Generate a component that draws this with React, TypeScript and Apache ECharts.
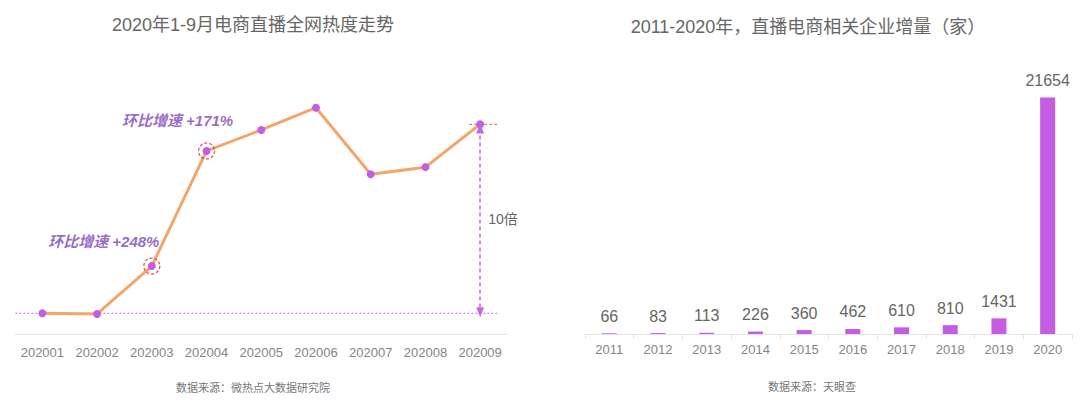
import React, { useEffect, useRef } from "react";
import * as echarts from "echarts";

const FONT = '"Liberation Sans", "Noto Sans CJK SC", sans-serif';

// Left chart: online heat of live-stream e-commerce, Jan–Sep 2020 (relative index, 202001 = 10)
const months = ["202001", "202002", "202003", "202004", "202005", "202006", "202007", "202008", "202009"];
const heatValues = [10, 9.7, 32.5, 87.3, 97.3, 107.9, 76.2, 79.6, 100];
const growthNotes = [
  { month: "202003", value: 32.5, text: "环比增速 +248%" },
  { month: "202004", value: 87.3, text: "环比增速 +171%" },
];
const baseValue = 10;
const peakValue = 100;
const multipleText = "10倍";

// Right chart: new live-stream e-commerce companies per year
const years = ["2011", "2012", "2013", "2014", "2015", "2016", "2017", "2018", "2019", "2020"];
const companyCounts = [66, 83, 113, 226, 360, 462, 610, 810, 1431, 21654];

const leftTitle = "2020年1-9月电商直播全网热度走势";
const rightTitle = "2011-2020年，直播电商相关企业增量（家）";
const leftSource = "数据来源：微热点大数据研究院";
const rightSource = "数据来源：天眼查";

const PURPLE = "#c45ce4";
const ORANGE = "#f2a66c";
const NOTE = "#7a45b8";
const GUIDE = "#c466e6";

export default function App() {
  const ref = useRef<HTMLDivElement>(null);
  useEffect(() => {
    if (!ref.current) return;
    const chart = echarts.init(ref.current, undefined, { renderer: "svg" });
    const noteOffsets: Record<string, number[]> = { "202003": [-48, -25], "202004": [-29, -30] };
    chart.setOption({
      animation: false,
      backgroundColor: "#ffffff",
      textStyle: { fontFamily: FONT },
      grid: [
        { left: 15, width: 492.5, top: 82.3, height: 252 },
        { left: 585, width: 487, top: 61, height: 273 },
      ],
      xAxis: [
        {
          type: "category",
          gridIndex: 0,
          data: months,
          boundaryGap: true,
          axisLine: { lineStyle: { color: "#e6e6e6", width: 1 } },
          axisTick: { show: false },
          axisLabel: { color: "#858585", fontSize: 13, margin: 12, interval: 0, fontFamily: FONT },
        },
        {
          type: "category",
          gridIndex: 1,
          data: years,
          boundaryGap: true,
          axisLine: { lineStyle: { color: "#e3e3e3", width: 1 } },
          axisTick: { show: true, length: 5, lineStyle: { color: "#e3e3e3" } },
          axisLabel: { color: "#858585", fontSize: 13, margin: 9, interval: 0, fontFamily: FONT },
        },
      ],
      yAxis: [
        { type: "value", gridIndex: 0, min: 0, max: 120, show: false, splitLine: { show: false } },
        { type: "value", gridIndex: 1, min: 0, max: 25000, show: false, splitLine: { show: false } },
      ],
      series: [
        {
          type: "line",
          xAxisIndex: 0,
          yAxisIndex: 0,
          data: heatValues,
          symbol: "circle",
          symbolSize: 8,
          lineStyle: { color: ORANGE, width: 3 },
          itemStyle: { color: PURPLE },
          z: 3,
          markLine: {
            silent: true,
            animation: false,
            symbol: ["triangle", "triangle"],
            symbolSize: [8, 10],
            label: { show: false },
            lineStyle: { color: GUIDE, type: [4, 3], width: 1.5 },
            data: [
              [
                { coord: [months[months.length - 1], peakValue - 2] },
                { coord: [months[months.length - 1], baseValue + 0.5] },
              ],
            ],
          },
        },
        {
          type: "scatter",
          xAxisIndex: 0,
          yAxisIndex: 0,
          symbol: "circle",
          symbolSize: 16,
          z: 4,
          itemStyle: {
            color: "rgba(0,0,0,0)",
            borderColor: "#e02b2b",
            borderWidth: 1.3,
            borderType: [3, 2],
          },
          data: growthNotes.map((n) => ({
            value: [n.month, n.value],
            label: {
              show: true,
              position: "inside",
              offset: noteOffsets[n.month],
              formatter: n.text,
              color: NOTE,
              fontSize: 15,
              fontStyle: "italic",
              fontWeight: "bold",
              fontFamily: FONT,
            },
          })),
        },
        {
          type: "bar",
          xAxisIndex: 1,
          yAxisIndex: 1,
          data: companyCounts,
          barWidth: 15,
          itemStyle: { color: PURPLE },
          label: {
            show: true,
            position: "top",
            distance: 9,
            color: "#666666",
            fontSize: 16,
            fontFamily: FONT,
          },
        },
      ],
    });

    const peak = chart.convertToPixel({ xAxisIndex: 0, yAxisIndex: 0 }, [months[months.length - 1], peakValue]) as number[];
    const base = chart.convertToPixel({ xAxisIndex: 0, yAxisIndex: 0 }, [months[months.length - 1], baseValue]) as number[];
    const first = chart.convertToPixel({ xAxisIndex: 0, yAxisIndex: 0 }, [months[0], baseValue]) as number[];

    chart.setOption({
      graphic: [
        {
          type: "text",
          style: { x: 253, y: 25, text: leftTitle, fill: "#666666", font: `18px ${FONT}`, align: "center", verticalAlign: "middle" },
        },
        {
          type: "text",
          style: { x: 808, y: 27, text: rightTitle, fill: "#666666", font: `18px ${FONT}`, align: "center", verticalAlign: "middle" },
        },
        {
          type: "text",
          style: { x: 253, y: 388, text: leftSource, fill: "#777777", font: `11px ${FONT}`, align: "center", verticalAlign: "middle" },
        },
        {
          type: "text",
          style: { x: 812, y: 387, text: rightSource, fill: "#777777", font: `11px ${FONT}`, align: "center", verticalAlign: "middle" },
        },
        {
          type: "line",
          shape: { x1: first[0] - 27, y1: base[1], x2: base[0] + 17, y2: base[1] },
          style: { stroke: GUIDE, lineWidth: 1, lineDash: [2, 2] },
          z: 1,
        },
        {
          type: "line",
          shape: { x1: peak[0] - 11, y1: peak[1], x2: peak[0] + 17, y2: peak[1] },
          style: { stroke: "#e06060", lineWidth: 1, lineDash: [3, 2] },
          z: 1,
        },
        {
          type: "text",
          style: {
            x: peak[0] + 8,
            y: (peak[1] + base[1]) / 2,
            text: multipleText,
            fill: "#666666",
            font: `14px ${FONT}`,
            align: "left",
            verticalAlign: "middle",
          },
        },
      ],
    });

    return () => chart.dispose();
  }, []);
  return <div ref={ref} style={{ position: "fixed", left: 0, top: 0, width: 1080, height: 403 }} />;
}
